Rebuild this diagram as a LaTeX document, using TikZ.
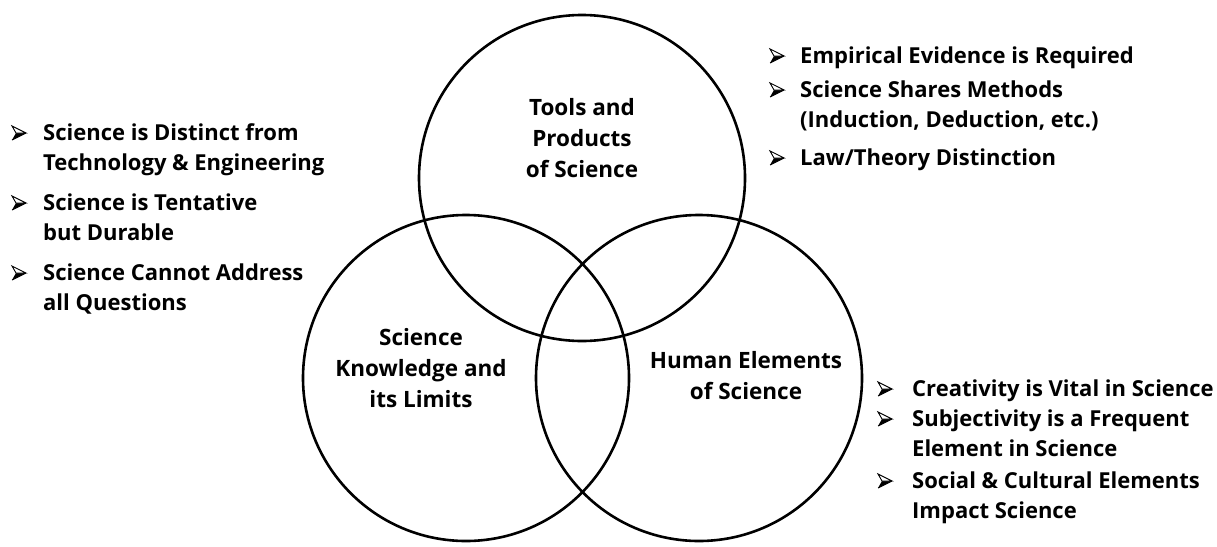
\documentclass[tikz,border=0pt]{standalone}
\usepackage{fontspec}
\setmainfont{Open Sans}
\begin{document}
\begin{tikzpicture}[x=1pt,y=-1pt,
  ring/.style={draw=black, line width=2.6pt},
  lbl/.style={font=\fontsize{22.5}{31}\selectfont\bfseries, inner sep=0pt, align=center},
  itm/.style={font=\fontsize{22}{30}\selectfont\bfseries, inner sep=0pt, anchor=base west},
  pics/bul/.style={code={
    \fill[black] (0,0) -- (14,-7) -- (4,-7) -- cycle;
    \filldraw[fill=white,draw=black,line width=0.9pt,line join=miter] (0,-14) -- (14,-7) -- (4,-7) -- cycle;
    \draw[black,line width=0.9pt,line join=miter] (0,0) -- (14,-7);
  }}]
\useasboundingbox (0,0) rectangle (1217,546);
\fill[white] (0,0) rectangle (1217,546);
% circles
\draw[ring] (582,178) circle[radius=163];
\draw[ring] (466,378) circle[radius=163];
\draw[ring] (699,378) circle[radius=163];
% circle labels
\node[lbl] (tools) at (582,138) {Tools and\\Products\\of Science};
\node[lbl] (know) at (421,368) {Science\\Knowledge and\\its Limits};
\node[lbl] (human) at (746,376) {Human Elements\\of Science};
% left list
\pic (b1) at (12,140) {bul};
\node[itm] (l1a) at (43,140) {Science is Distinct from};
\node[itm] (l1b) at (43,170) {Technology \& Engineering};
\pic (b2) at (12,210) {bul};
\node[itm] (l2a) at (43,210) {Science is Tentative};
\node[itm] (l2b) at (43,240) {but Durable};
\pic (b3) at (12,280) {bul};
\node[itm] (l3a) at (43,280) {Science Cannot Address};
\node[itm] (l3b) at (43,310) {all Questions};
% top right list
\pic (b4) at (770,63) {bul};
\node[itm] (r1a) at (800,63) {Empirical Evidence is Required};
\pic (b5) at (770,97) {bul};
\node[itm] (r2a) at (800,97) {Science Shares Methods};
\node[itm] (r2b) at (800,127) {(Induction, Deduction, etc.)};
\pic (b6) at (770,165) {bul};
\node[itm] (r3a) at (800,165) {Law/Theory Distinction};
% bottom right list
\pic (b7) at (878,396) {bul};
\node[itm] (s1a) at (912,396) {Creativity is Vital in Science};
\pic (b8) at (878,426) {bul};
\node[itm] (s2a) at (912,426) {Subjectivity is a Frequent};
\node[itm] (s2b) at (912,456) {Element in Science};
\pic (b9) at (878,488) {bul};
\node[itm] (s3a) at (912,488) {Social \& Cultural Elements};
\node[itm] (s3b) at (912,518) {Impact Science};
\end{tikzpicture}
\end{document}
